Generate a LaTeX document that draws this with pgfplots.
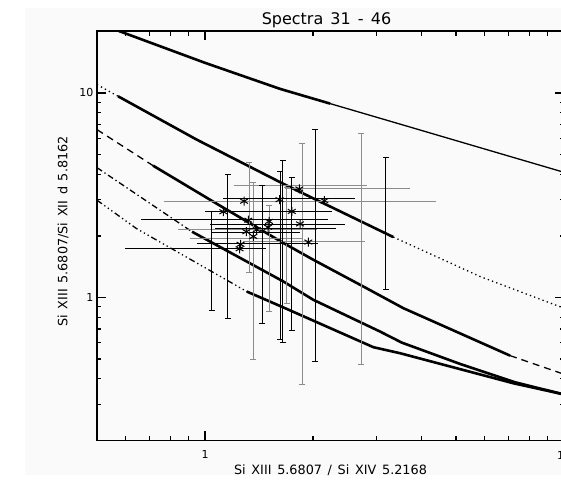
\documentclass[border=0pt]{standalone}
\usepackage{fontspec}
\usepackage{pgfplots}
\pgfplotsset{compat=1.18}
\setmainfont{DejaVu Sans}
\newfontfamily\idlfont[WordSpace=1.4]{DejaVu Sans}
\definecolor{barg}{RGB}{140,140,140}
\definecolor{bgc}{RGB}{250,250,250}
\begin{document}
\begin{tikzpicture}
\fill[bgc] (-72pt,-34.6pt) rectangle (470pt,432.4pt);
\begin{axis}[
  at={(0pt,0pt)}, anchor=south west,
  scale only axis, width=467pt, height=409.1pt,
  xmode=log, ymode=log,
  xmin=0.5, xmax=10, ymin=0.2, ymax=20,
  axis line style={line width=1.8pt},
  tick align=inside, xtick pos=both, ytick pos=both,
  major tick length=9pt, minor tick length=4.5pt,
  tick style={black, line width=1.3pt},
  xtick={1,10}, xticklabels={1,10},
  ytick={1,10}, yticklabels={1,10},
  minor xtick={0.6,0.7,0.8,0.9,2,3,4,5,6,7,8,9},
  minor ytick={0.3,0.4,0.5,0.6,0.7,0.8,0.9,2,3,4,5,6,7,8,9},
  /pgf/number format/assume math mode=true,
  ticklabel style={font=\idlfont\fontsize{11}{13}\selectfont},
  xticklabel style={yshift=-7pt},
  every axis title shift=0pt,
  title={Spectra 31 - 46},
  title style={at={(axis description cs:0.4914,1.0154)}, anchor=base, font=\idlfont\fontsize{16}{18}\selectfont, inner sep=0pt},
  xlabel={Si XIII 5.6807 / Si XIV 5.2168},
  xlabel style={at={(axis description cs:0.5,-0.0831)}, anchor=base, font=\idlfont\fontsize{12.8}{14}\selectfont, inner sep=0pt},
  ylabel={Si XIII 5.6807/Si XII d 5.8162},
  ylabel style={at={(axis description cs:-0.0636,0.5108)}, anchor=base, font=\idlfont\fontsize{12.8}{14}\selectfont, inner sep=0pt},
]
% curve A
\addplot[black, line width=2.6pt, line join=round] coordinates {(0.574,20.1) (1,14.02) (1.6176,10.46) (2.2295,8.864)};
\addplot[black, line width=1.3pt, line join=round] coordinates {(2.2295,8.864) (3.493,7.036) (5.834,5.398) (10,4.09)};
% curve B
\addplot[black, line width=1.3pt, dash pattern=on 1.3pt off 3.2pt] coordinates {(0.5,10.98) (0.5723,9.624)};
\addplot[black, line width=2.6pt, line join=round] coordinates {(0.5723,9.624) (0.9482,5.906) (1.6703,3.558) (3.3459,1.973)};
\addplot[black, line width=1.3pt, dash pattern=on 1.3pt off 3.2pt] coordinates {(3.3459,1.973) (5.834,1.2657) (10,0.8855)};
% curve C
\addplot[black, line width=1.3pt, dash pattern=on 7pt off 5pt] coordinates {(0.5,6.612) (0.7166,4.407)};
\addplot[black, line width=2.6pt, line join=round] coordinates {(0.7166,4.407) (1.101,2.808) (1.649,1.850) (2.0029,1.5276) (2.7602,1.1307) (3.5677,0.8863) (7.0735,0.5195)};
\addplot[black, line width=1.3pt, dash pattern=on 7pt off 5pt] coordinates {(7.0735,0.5195) (10,0.4212)};
% curve D
\addplot[black, line width=1.3pt, dash pattern=on 6pt off 3pt on 1.3pt off 3pt] coordinates {(0.5,4.309) (0.92,2.095)};
\addplot[black, line width=2.6pt, line join=round] coordinates {(0.92,2.095) (1.649,1.199) (2.0029,0.9733) (3.073,0.681) (3.5313,0.6015) (5.1323,0.4731) (7.3043,0.3849) (10,0.3355)};
% curve E
\addplot[black, line width=1.3pt, dash pattern=on 6pt off 3pt on 1.3pt off 3pt on 1.3pt off 3pt on 1.3pt off 3pt] coordinates {(0.5,2.987) (0.6452,2.167) (1.3066,1.0688)};
\addplot[black, line width=2.6pt, line join=round] coordinates {(1.3066,1.0688) (1.6703,0.8863) (2.9434,0.5711) (3.493,0.5337) (7.2249,0.3806) (10,0.3355)};
% horizontal error bars, gray
\addplot[barg, line width=1pt, unbounded coords=jump] table[row sep=\\]{
x y\\
1.2044 3.530\\ 2.8211 3.530\\ nan nan\\
1.6703 3.389\\ 3.7243 3.389\\ nan nan\\
0.7685 2.948\\ 4.3999 2.948\\ nan nan\\
0.8425 2.1427\\ 2.0471 2.1427\\ nan nan\\
0.9084 1.9468\\ 1.8753 1.9468\\ nan nan\\
1.2785 1.8778\\ 2.7905 1.8778\\
};
% vertical error bars, gray
\addplot[barg, line width=1pt, mark=-, mark size=3pt, mark options={solid}, unbounded coords=jump] table[row sep=\\]{
x y\\
1.3285 4.585\\ 1.3285 1.3298\\ nan nan\\
1.3605 3.651\\ 1.3605 0.4949\\ nan nan\\
1.5105 2.808\\ 1.5105 0.8502\\ nan nan\\
1.6887 3.428\\ 1.6887 0.9378\\ nan nan\\
1.8633 5.647\\ 1.8633 0.3734\\ nan nan\\
2.7198 6.300\\ 2.7198 0.4705\\
};
% horizontal error bars, black
\addplot[black, line width=1pt, unbounded coords=jump] table[row sep=\\]{
x y\\
1.1245 3.029\\ 2.6169 3.029\\ nan nan\\
1.0 2.633\\ 2.2538 2.633\\ nan nan\\
0.6635 2.3985\\ 2.2052 2.3985\\ nan nan\\
1.0326 2.2797\\ 2.4547 2.2797\\ nan nan\\
1.0663 2.1842\\ 2.3125 2.1842\\ nan nan\\
1.0439 2.0831\\ 1.8391 2.0831\\ nan nan\\
0.9482 1.8299\\ 2.0683 1.8299\\ nan nan\\
0.5987 1.7431\\ 1.4790 1.7431\\
};
% vertical error bars, black
\addplot[black, line width=1pt, mark=-, mark size=3pt, mark options={solid}, unbounded coords=jump] table[row sep=\\]{
x y\\
1.0439 2.633\\ 1.0439 0.8598\\ nan nan\\
1.1565 3.982\\ 1.1565 0.7857\\ nan nan\\
1.4443 3.518\\ 1.4443 0.7426\\ nan nan\\
1.6176 4.105\\ 1.6176 0.6250\\ nan nan\\
1.6437 4.679\\ 1.6437 0.6015\\ nan nan\\
1.7441 3.863\\ 1.7441 0.6864\\ nan nan\\
2.0249 6.612\\ 2.0249 0.4866\\ nan nan\\
3.1866 4.807\\ 3.1866 1.0894\\
};
% data points
\addplot[only marks, black, mark=asterisk, mark size=4.5pt, line width=1pt] coordinates {
(1.8309,3.389) (2.1494,2.971) (1.2842,2.954) (1.6124,3.005) (1.1245,2.624) (1.7441,2.633)
(1.3200,2.385) (1.5076,2.353) (1.8391,2.287) (1.3032,2.095) (1.3932,2.142) (1.3631,1.987)
(1.4980,2.203) (1.9400,1.865) (1.2557,1.819) (1.2477,1.729)};
\end{axis}
\pgfresetboundingbox
\path[use as bounding box] (-97pt,-44.6pt) rectangle (464pt,440.4pt);
\end{tikzpicture}
\end{document}
